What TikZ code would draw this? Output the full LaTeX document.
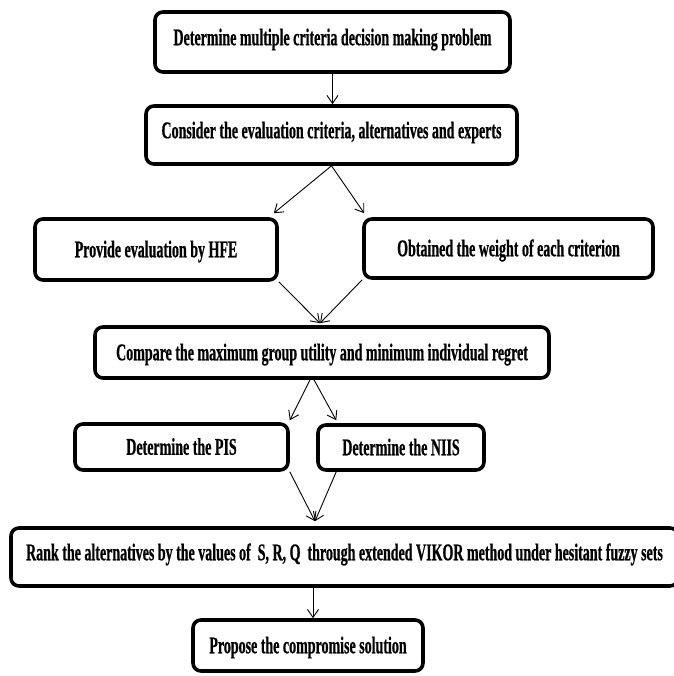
\documentclass[tikz,border=0pt]{standalone}
\usepackage{fontspec}
\newfontfamily\boxfont{Liberation Serif}[FakeStretch=0.583, BoldFeatures={FakeBold=0.6}]
\usetikzlibrary{arrows.meta}
\tikzset{
  box/.style={draw, line width=3.6pt, rounded corners=8pt, inner sep=0pt,
    font=\boxfont\bfseries\fontsize{24}{27}\selectfont,
    text height=15.5pt, text depth=0pt},
  raised/.style={text depth=9pt},
  arr/.style={line width=0.9pt, -{Straight Barb[length=8pt,width=11pt,line width=0.9pt]}}
}
\begin{document}
\begin{tikzpicture}[x=1pt,y=-1pt]
\useasboundingbox (0,0) rectangle (673,676);
\node[box,raised,minimum width=355pt,minimum height=60pt] (b1) at (332.5,42) {Determine multiple criteria decision making problem};
\node[box,raised,minimum width=371pt,minimum height=58pt] (b2) at (331.5,135) {Consider the evaluation criteria, alternatives and experts};
\node[box,minimum width=242pt,minimum height=61pt] (b3) at (156,249.5) {Provide evaluation by HFE};
\node[box,minimum width=289pt,minimum height=59pt] (b4) at (508.5,248.5) {Obtained the weight of each criterion};
\node[box,minimum width=454pt,minimum height=51pt] (b5) at (322,352.5) {Compare the maximum group utility and minimum individual regret};
\node[box,minimum width=213pt,minimum height=46pt] (b6) at (181.5,447) {Determine the PIS};
\node[box,minimum width=166pt,minimum height=45pt] (b7) at (401,447.5) {Determine the NIIS};
\node[box,raised,minimum width=667pt,minimum height=58pt] (b8) at (344.5,557) {Rank the alternatives by the values of~~S, R, Q~~through extended VIKOR method under hesitant fuzzy sets};
\node[box,minimum width=230pt,minimum height=51pt] (b9) at (308,645.5) {Propose the compromise solution};

\draw[arr] (b1.south) -- (b1.south |- b2.north);
\draw[arr] (b2.south) -- ([shift={(-5,-4)}]b3.north east);
\draw[arr] (b2.south) -- ([shift={(2,-4)}]b4.north west);
\draw[arr] (b3.south east) -- ([shift={(-2,-2)}]b5.north);
\draw[arr] (b4.south west) -- ([shift={(-2,-2)}]b5.north);
\draw[arr] ([xshift=-12]b5.south) -- ([shift={(0,-2)}]b6.north east);
\draw[arr] ([xshift=-8]b5.south) -- ([shift={(20,-3)}]b7.north west);
\draw[arr] (b6.south east) -- ([shift={(-29.5,-5)}]b8.north);
\draw[arr] ([xshift=20]b7.south west) -- ([shift={(-29.5,-5)}]b8.north);
\draw[arr] ([xshift=5]b9.north |- b8.south) -- ([xshift=5]b9.north);
\end{tikzpicture}
\end{document}
